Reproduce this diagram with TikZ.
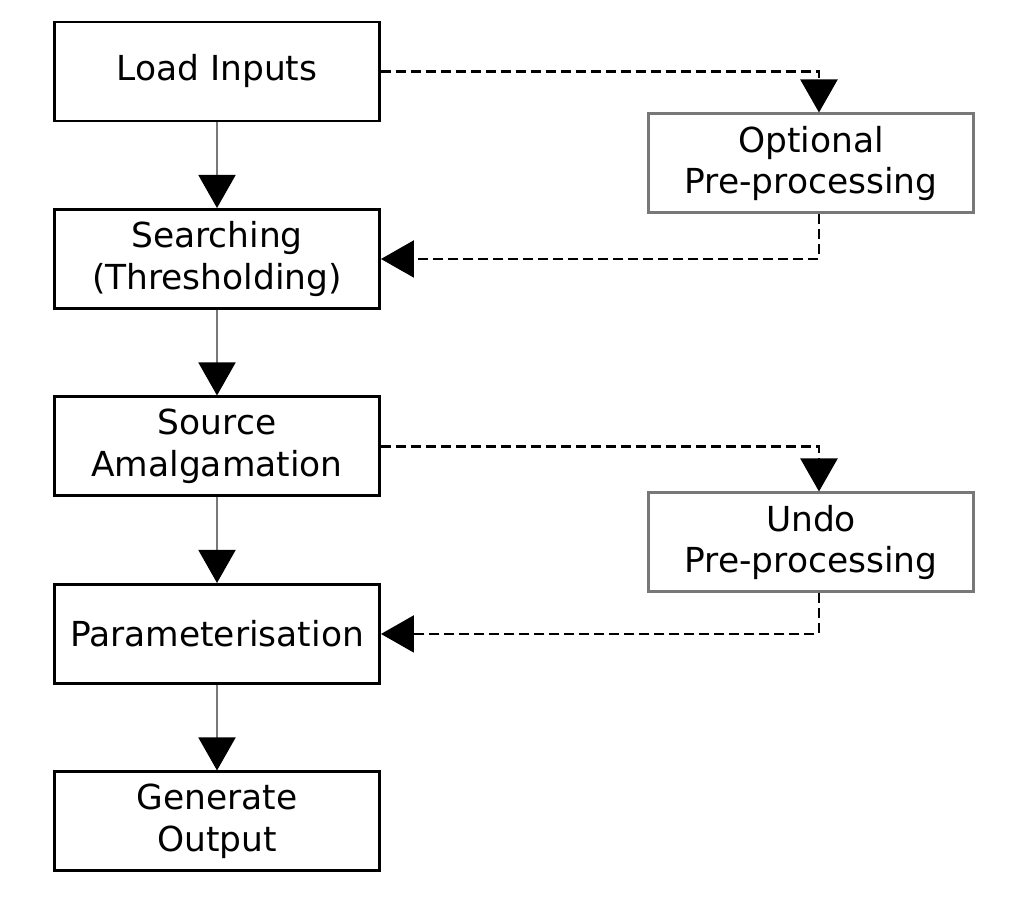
\documentclass[tikz,border=0pt]{standalone}
\usepackage{fontspec}
\setmainfont{DejaVu Sans}
\usetikzlibrary{positioning,arrows.meta}
\definecolor{boxgrey}{RGB}{120,120,120}
\tikzset{
  st/.style={draw=black, line width=1.7pt, fill=white, align=center,
             minimum width=6.5cm, minimum height=1.98cm, inner sep=2pt,
             font=\fontsize{19.6}{23.8}\selectfont},
  sto/.style={st, draw=boxgrey},
  fl/.style={-{Triangle[length=6.6mm,width=7.4mm,color=black]}, boxgrey, line width=1.1pt},
  fo/.style={-{Triangle[length=6.6mm,width=7.4mm]}, black, line width=1.3pt,
             dash pattern=on 2mm off 1mm}
}
\begin{document}
\begin{tikzpicture}[node distance=1.71cm]
  \useasboundingbox (0,0) rectangle (20.28,-18.28);
  \node[st] (load) at (4.34,-1.43) {Load Inputs};
  \node[st, below=of load] (search) {Searching\\(Thresholding)};
  \node[st, below=of search] (amalg) {Source\\Amalgamation};
  \node[st, below=of amalg] (param) {Parameterisation};
  \node[st, below=of param] (output) {Generate\\Output};
  \node[sto, below right=-0.2cm and 5.32cm of load] (prep) {Optional\\Pre-processing};
  \node[sto, below right=-0.12cm and 5.32cm of amalg] (undo) {Undo\\Pre-processing};
  \draw[fl] (load) -- (search);
  \draw[fl] (search) -- (amalg);
  \draw[fl] (amalg) -- (param);
  \draw[fl] (param) -- (output);
  \draw[fo] (load.east) -| ([xshift=1.6mm]prep.north);
  \draw[fo] ([xshift=1.6mm]prep.south) |- (search.east);
  \draw[fo] (amalg.east) -| ([xshift=1.6mm]undo.north);
  \draw[fo] ([xshift=1.6mm]undo.south) |- (param.east);
\end{tikzpicture}
\end{document}
